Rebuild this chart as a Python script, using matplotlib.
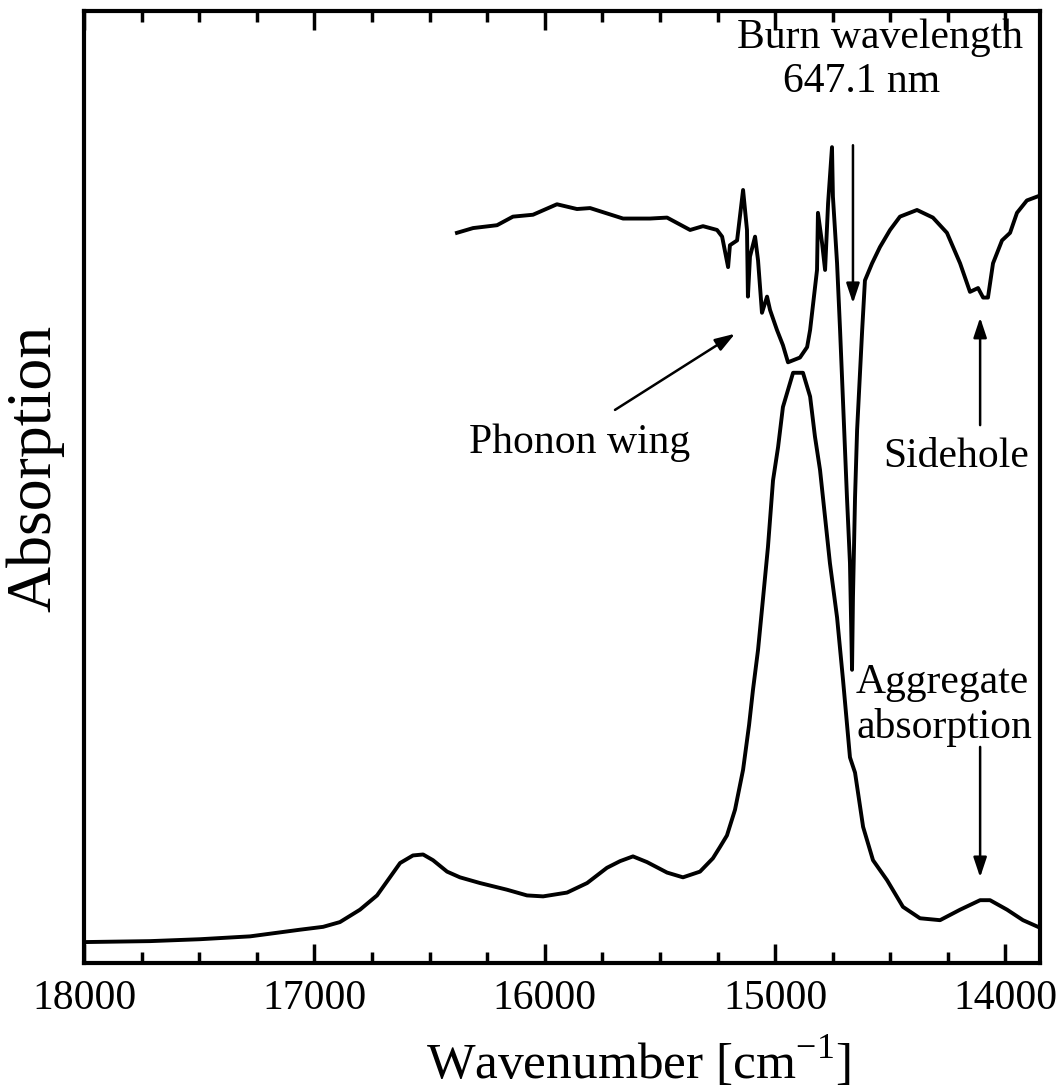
import matplotlib
matplotlib.use('Agg')
import matplotlib.pyplot as plt
from matplotlib.ticker import MultipleLocator

plt.rcParams['font.family'] = ['Liberation Serif', 'DejaVu Serif']

# aggregate absorption spectrum (lower curve)
abs_wn = [17996, 17713, 17496, 17279, 17062, 16962, 16889, 16802, 16728, 16672,
          16628, 16572, 16528, 16485, 16424, 16368, 16281, 16164, 16077, 16007,
          15903, 15816, 15730, 15673, 15617, 15556, 15469, 15400, 15326, 15270,
          15239, 15209, 15174, 15139, 15113, 15096, 15074, 15052, 15031, 15009,
          14987, 14966, 14922, 14879, 14848, 14827, 14805, 14783, 14762, 14731,
          14705, 14675, 14653, 14618, 14575, 14514, 14445, 14371, 14284, 14197,
          14110, 14067, 13993, 13924, 13859]
abs_val = [0.022, 0.023, 0.025, 0.028, 0.035, 0.038, 0.043, 0.056, 0.071, 0.090,
           0.105, 0.113, 0.114, 0.108, 0.096, 0.090, 0.084, 0.077, 0.071, 0.070,
           0.074, 0.084, 0.100, 0.107, 0.112, 0.106, 0.095, 0.090, 0.096, 0.110,
           0.122, 0.134, 0.161, 0.203, 0.250, 0.287, 0.329, 0.384, 0.437, 0.507,
           0.542, 0.584, 0.620, 0.620, 0.595, 0.553, 0.518, 0.468, 0.420, 0.363,
           0.297, 0.216, 0.200, 0.143, 0.108, 0.087, 0.059, 0.047, 0.045, 0.056,
           0.066, 0.066, 0.056, 0.045, 0.038]

# hole burning spectrum (upper curve)
hb_wn = [16381, 16311, 16207, 16138, 16051, 15947, 15860, 15803, 15660, 15543,
         15469, 15369, 15313, 15252, 15230, 15204, 15196, 15165, 15139, 15122,
         15118, 15109, 15087, 15074, 15057, 15035, 15022, 14992, 14966, 14944,
         14892, 14861, 14848, 14818, 14814, 14796, 14783, 14770, 14753, 14749,
         14731, 14718, 14688, 14675, 14666, 14662, 14653, 14644, 14622, 14610,
         14579, 14545, 14501, 14458, 14384, 14315, 14254, 14197, 14154, 14119,
         14097, 14076, 14054, 14015, 13980, 13950, 13907, 13863]
hb_val = [0.767, 0.772, 0.775, 0.784, 0.786, 0.797, 0.792, 0.793, 0.782, 0.782,
          0.783, 0.770, 0.774, 0.770, 0.763, 0.731, 0.754, 0.759, 0.812, 0.770,
          0.700, 0.742, 0.763, 0.738, 0.683, 0.700, 0.686, 0.665, 0.649, 0.631,
          0.636, 0.647, 0.665, 0.728, 0.788, 0.756, 0.728, 0.798, 0.857, 0.805,
          0.735, 0.665, 0.489, 0.420, 0.308, 0.384, 0.489, 0.560, 0.665, 0.717,
          0.735, 0.752, 0.770, 0.784, 0.791, 0.783, 0.767, 0.735, 0.705, 0.709,
          0.699, 0.699, 0.735, 0.759, 0.767, 0.788, 0.801, 0.805]

x_ticks = [18000, 17000, 16000, 15000, 14000]

fig = plt.figure(figsize=(10.62, 10.90), dpi=100)
ax = fig.add_axes([0.0791, 0.1165, 0.9002, 0.8734])

ax.plot(abs_wn, abs_val, color='black', lw=2.8)
ax.plot(hb_wn, hb_val, color='black', lw=2.8)

ax.set_xlim(18000, 13850)
ax.set_ylim(0, 1)
ax.set_xticks(x_ticks)
ax.xaxis.set_minor_locator(MultipleLocator(250))
ax.set_yticks([])
ax.tick_params(axis='x', which='major', direction='in', top=True, length=14,
               width=2.5, labelsize=30, pad=12)
ax.tick_params(axis='x', which='minor', direction='in', top=True, length=8,
               width=2.5)
for s in ax.spines.values():
    s.set_linewidth(3)

ax.set_xlabel('Wavenumber [cm$^{\\mathregular{-1}}$]', fontsize=37,
              labelpad=12, x=0.58)
ax.set_ylabel('Absorption', fontsize=46, labelpad=14, y=0.52)

arrow = dict(arrowstyle='-|>,head_length=1.2,head_width=0.4', color='black',
             lw=1.8, shrinkA=0, shrinkB=0)
ax.annotate('', xy=(14662, 0.693), xytext=(14662, 0.859), arrowprops=arrow)
ax.annotate('', xy=(15174, 0.661), xytext=(15695, 0.581), arrowprops=arrow)
ax.annotate('', xy=(14110, 0.678), xytext=(14110, 0.565), arrowprops=arrow)
ax.annotate('', xy=(14110, 0.090), xytext=(14110, 0.227), arrowprops=arrow)

tk = dict(fontsize=30, ha='center', va='center')
ax.text(14545, 0.972, 'Burn wavelength', **tk)
ax.text(14623, 0.926, '647.1 nm', **tk)
ax.text(15847, 0.546, 'Phonon wing', **tk)
ax.text(14215, 0.532, 'Sidehole', **tk)
ax.text(14275, 0.294, 'Aggregate', **tk)
ax.text(14265, 0.247, 'absorption', **tk)

fig.savefig('out.png', dpi=100)
